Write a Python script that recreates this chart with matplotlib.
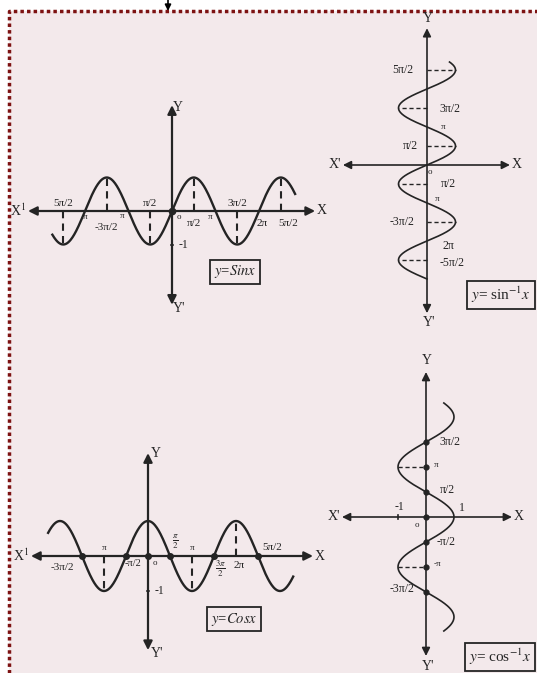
import numpy as np
import matplotlib
matplotlib.use("Agg")
import matplotlib.pyplot as plt
from matplotlib.lines import Line2D
from matplotlib.patches import Rectangle

plt.rcParams['font.family'] = ['Liberation Serif', 'DejaVu Serif']
plt.rcParams['mathtext.fontset'] = 'stix'

PI = np.pi

# ---- data (angles in multiples of pi) ----
sin_x_range = [-2.75, 2.83]          # plotted span of y = sin x
sin_dash = [-2.5, -1.5, -0.5, 0.5, 1.5, 2.5]
sin_labels = [(-2.5, '5π/2', 0, 8, 8), (-2.0, 'π', 0, -6, 6.5), (-1.5, '-3π/2', 0, -16, 8),
              (-1.0, 'π', -6, -5, 6.5), (-0.5, 'π/2', 0, 8, 8), (0.0, 'o', 7, -6, 6.5),
              (0.5, 'π/2', 0, -12, 8), (1.0, 'π', -5, -6, 6.5), (1.5, '3π/2', 0, 8, 8),
              (2.0, '2π', 3, -12, 8), (2.5, '5π/2', 7, -12, 8)]

asin_y_range = [-3.0, 2.71]          # plotted span of y = sin^-1 x
asin_dash = [-2.5, -1.5, -0.5, 0.5, 1.5, 2.5]
asin_labels = [(2.5, '5π/2', -24, 0, 8.5), (1.5, '3π/2', 23, -1, 8.5), (1.0, 'π', 16, 0, 6.5),
               (0.5, 'π/2', -17, 0, 8.5), (-0.5, 'π/2', 21, 0, 8.5), (-1.0, 'π', 10, 4, 6.5),
               (-1.5, '-3π/2', -25, 0, 8.5), (-2.0, '2π', 21, -5, 8.5), (-2.5, '-5π/2', 25, -3, 8.5)]

cos_x_range = [-2.27, 3.3]           # plotted span of y = cos x
cos_dots = [-1.5, -0.5, 0.0, 0.5, 1.5, 2.5]
cos_dash = [-1.0, 1.0, 2.0]
cos_labels = [(-1.0, 'π', 0, 8, 6.5), (-1.5, '-3π/2', -20, -12, 8), (-0.5, '-π/2', 7, -8, 7.5),
              (0.0, 'o', 7, -7, 6.5), (0.5, r'$\frac{\pi}{2}$', 5, 14, 9), (1.0, 'π', 0, 8, 6.5),
              (1.5, r'$\frac{3\pi}{2}$', 7, -13, 9), (2.0, '2π', 3, -9, 8), (2.5, '5π/2', 14, 8, 8)]

acos_y_range = [-2.28, 2.28]         # plotted span of y = cos^-1 x
acos_dots = [-1.5, -1.0, -0.5, 0.0, 0.5, 1.0, 1.5]
acos_dash = [-1.0, 1.0]
acos_labels = [(1.5, '3π/2', 24, 0, 8.5), (1.0, 'π', 10, 2, 6.5), (0.5, 'π/2', 21, 2, 8.5),
               (-0.5, '-π/2', 20, 0, 8.5), (-1.0, '-π', 11, 3, 6.5), (-1.5, '-3π/2', -24, 3, 8.5)]

W, H = 537, 673
INK = '#242424'
fig = plt.figure(figsize=(W / 100, H / 100), dpi=100)
fig.patch.set_facecolor('white')

# background panel + dotted border
bg = fig.add_axes([0, 0, 1, 1])
bg.set_xlim(0, W)
bg.set_ylim(H, 0)
bg.axis('off')
bg.add_patch(Rectangle((9, 11), W, H, facecolor='#f3e9eb', edgecolor='none'))
bg.add_line(Line2D([9, 9, W], [H, 11, 11], color='#7d1212', lw=2.5,
                   linestyle=(0, (1, 0.9)), solid_capstyle='butt', dash_capstyle='butt'))
bg.annotate('', xy=(168, 11), xytext=(168, 0),
            arrowprops=dict(arrowstyle='-|>', color='black', lw=1.2, mutation_scale=9,
                            shrinkA=0, shrinkB=0))


def panel(ox, oy, sx, sy, box):
    l, t, r, b = box
    ax = fig.add_axes([l / W, 1 - b / H, (r - l) / W, (b - t) / H])
    ax.set_xlim((l - ox) / sx, (r - ox) / sx)
    ax.set_ylim((oy - b) / sy, (oy - t) / sy)
    ax.axis('off')
    ax.patch.set_alpha(0)
    return ax


def arrow_axes(ax, x0, x1, y0, y1, lw, ms, xl, yl):
    ap = dict(arrowstyle='<|-|>', color=INK, lw=lw, mutation_scale=ms, shrinkA=0, shrinkB=0)
    ax.annotate('', xy=(x1, 0), xytext=(x0, 0), arrowprops=ap, annotation_clip=False)
    ax.annotate('', xy=(0, y1), xytext=(0, y0), arrowprops=ap, annotation_clip=False)
    ax.annotate(xl[0], xy=(x0, 0), xytext=(-2, 0), textcoords='offset pixels',
                ha='right', va='center', fontsize=10, color=INK)
    ax.annotate(xl[1], xy=(x1, 0), xytext=(2, 0), textcoords='offset pixels',
                ha='left', va='center', fontsize=10, color=INK)
    ax.annotate(yl[0], xy=(0, y1), xytext=yl[2], textcoords='offset pixels',
                ha='left', va='center', fontsize=10, color=INK)
    ax.annotate(yl[1], xy=(0, y0), xytext=yl[3], textcoords='offset pixels',
                ha='left', va='center', fontsize=10, color=INK)


def put_labels(ax, labels, horizontal):
    for v, s, dx, dy, fs in labels:
        xy = (v * PI, 0) if horizontal else (0, v * PI)
        ax.annotate(s, xy=xy, xytext=(dx, dy), textcoords='offset pixels',
                    ha='center', va='center', fontsize=fs, color=INK)


def box_label(ax, x, y, s, fs=10.5):
    ax.text(x, y, s, ha='center', va='center', fontsize=fs, color=INK,
            bbox=dict(boxstyle='square,pad=0.25', fc='none', ec=INK, lw=1.3))


# ---- y = sin x ----
ax1 = panel(172, 211, 43.5 / PI, 33.5, (5, 95, 330, 320))
arrow_axes(ax1, -3.31 * PI, 3.29 * PI, -2.8, 3.16, 1.6, 13,
           (r'X$^1$', 'X'), ('Y', "Y'", (1, -2), (1, -4)))
xs = np.linspace(sin_x_range[0] * PI, sin_x_range[1] * PI, 400)
ax1.plot(xs, np.sin(xs), color=INK, lw=1.7)
for v in sin_dash:
    ax1.plot([v * PI, v * PI], [0, np.sin(v * PI)], color=INK, lw=1.5, ls=(0, (3.5, 2.5)))
ax1.plot([-0.08, 0.08], [-1, -1], color=INK, lw=1.2)
ax1.annotate('-1', xy=(0, -1), xytext=(11, 0), textcoords='offset pixels',
             ha='center', va='center', fontsize=8.5, color=INK)
ax1.plot([0], [0], 'o', color=INK, ms=4.5)
put_labels(ax1, sin_labels, True)
box_label(ax1, 1.45 * PI, -1.82, r'$y$=$Sinx$')

# ---- y = sin^-1 x ----
ax2 = panel(427, 165, 28.5, 38 / PI, (320, 15, 537, 330))
arrow_axes(ax2, -2.95, 2.91, -3.9 * PI, 3.6 * PI, 1.2, 12,
           ("X'", 'X'), ('Y', "Y'", (-4, 10), (-4, -9)))
ys = np.linspace(asin_y_range[0] * PI, asin_y_range[1] * PI, 400)
ax2.plot(np.sin(ys), ys, color=INK, lw=1.2)
for v in asin_dash:
    ax2.plot([0, np.sin(v * PI)], [v * PI, v * PI], color=INK, lw=1.0, ls=(0, (3, 2)))
ax2.annotate('o', xy=(0, 0), xytext=(3, -7), textcoords='offset pixels',
             ha='center', va='center', fontsize=6.5, color=INK)
put_labels(ax2, asin_labels, False)
box_label(ax2, (501 - 427) / 28.5, (165 - 295) / 38 * PI, r'$y$= sin$^{-1}$$x$', 11)

# ---- y = cos x ----
ax3 = panel(148, 556, 44 / PI, 35, (5, 440, 330, 673))
arrow_axes(ax3, -2.66 * PI, 3.75 * PI, -2.69, 2.94, 1.6, 13,
           (r'X$^1$', 'X'), ('Y', "Y'", (3, 0), (3, -3)))
xs = np.linspace(cos_x_range[0] * PI, cos_x_range[1] * PI, 400)
ax3.plot(xs, np.cos(xs), color=INK, lw=1.7)
for v in cos_dash:
    ax3.plot([v * PI, v * PI], [0, np.cos(v * PI)], color=INK, lw=1.5, ls=(0, (3.5, 2.5)))
ax3.plot(np.array(cos_dots) * PI, np.zeros(len(cos_dots)), 'o', color=INK, ms=4)
ax3.plot([-0.08, 0.08], [-1, -1], color=INK, lw=1.2)
ax3.annotate('-1', xy=(0, -1), xytext=(11, 0), textcoords='offset pixels',
             ha='center', va='center', fontsize=8.5, color=INK)
put_labels(ax3, cos_labels, True)
box_label(ax3, 1.95 * PI, -1.8, r'$y$=$Cosx$')

# ---- y = cos^-1 x ----
ax4 = panel(426, 517, 28, 50 / PI, (320, 350, 537, 673))
arrow_axes(ax4, -3.0, 3.07, -2.78 * PI, 2.9 * PI, 1.2, 12,
           ("X'", 'X'), ('Y', "Y'", (-4, 11), (-4, -10)))
ys = np.linspace(acos_y_range[0] * PI, acos_y_range[1] * PI, 400)
ax4.plot(np.cos(ys), ys, color=INK, lw=1.2)
for v in acos_dash:
    ax4.plot([np.cos(v * PI), 0], [v * PI, v * PI], color=INK, lw=1.0, ls=(0, (3, 2)))
ax4.plot(np.zeros(len(acos_dots)), np.array(acos_dots) * PI, 'o', color=INK, ms=3.5)
ax4.plot([-1, -1], [-0.15, 0.15], color=INK, lw=1.2)
ax4.annotate('-1', xy=(-1, 0), xytext=(1, 10), textcoords='offset pixels',
             ha='center', va='center', fontsize=8.5, color=INK)
ax4.annotate('1', xy=(1, 0), xytext=(8, 9), textcoords='offset pixels',
             ha='center', va='center', fontsize=8.5, color=INK)
ax4.annotate('o', xy=(0, 0), xytext=(-9, -8), textcoords='offset pixels',
             ha='center', va='center', fontsize=6.5, color=INK)
put_labels(ax4, acos_labels, False)
box_label(ax4, (500 - 426) / 28, (517 - 657) / 50 * PI, r'$y$= cos$^{-1}$$x$', 11)

fig.savefig('out.png', dpi=100)
